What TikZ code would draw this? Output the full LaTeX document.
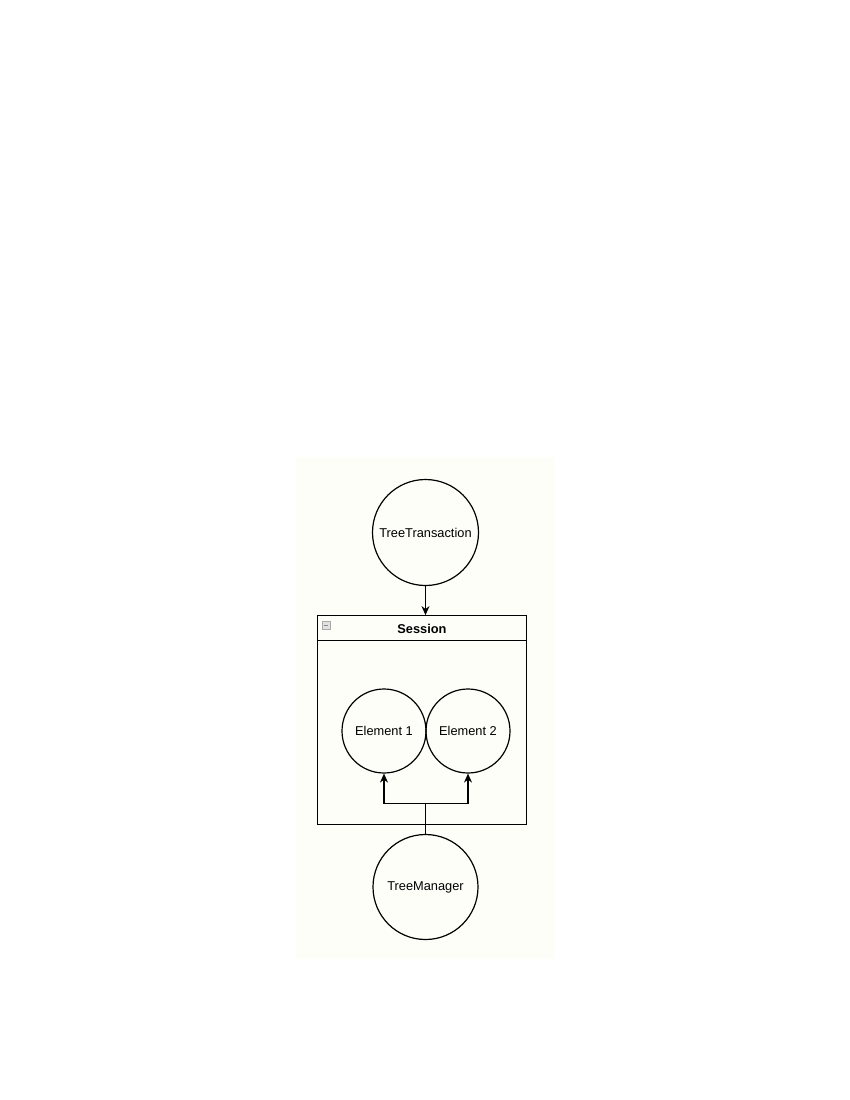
\documentclass[tikz,border=0pt]{standalone}
\usepackage{fontspec}
\setmainfont{Liberation Sans}
\usetikzlibrary{arrows.meta}
\definecolor{bgcol}{RGB}{254,254,249}
\definecolor{iconcol}{RGB}{170,170,170}
\begin{document}
\begin{tikzpicture}[x=1pt,y=-1pt,
  every node/.style={font=\fontsize{12.8}{15}\selectfont},
  circ/.style={draw, circle, line width=1.2pt, inner sep=0pt},
  conn/.style={line width=1.2pt},
  arr/.style={conn, -{Stealth[length=9pt,width=8pt]}}]
\useasboundingbox (0,0) rectangle (850,1100);
\fill[bgcol] (296,457) rectangle (555,959);
% nodes
\node[circ, minimum size=106pt] (tt) at (425.5,532.5) {TreeTransaction};
\node[draw, line width=1.2pt, minimum width=209.4pt, minimum height=208.6pt, inner sep=0pt] (session) at (422,720) {};
\node[font=\bfseries\fontsize{12.8}{15}\selectfont] (stitle) at (422,628.5) {Session};
\draw[line width=1.2pt] (317.3,640.7) coordinate (hl) -- (526.7,640.7) coordinate (hr);
\node[draw=iconcol, fill=iconcol!35, line width=0.6pt, minimum size=8pt, inner sep=0pt] (icon) at (326,625.5) {};
\draw[iconcol!80!black, line width=0.8pt] ([xshift=-2.3pt]icon.center) -- ([xshift=2.3pt]icon.center);
\node[circ, minimum size=84pt] (e1) at (384,731) {Element 1};
\node[circ, minimum size=84pt] (e2) at (468,731) {Element 2};
\node[circ, minimum size=105pt] (tm) at (425.5,887) {TreeManager};
% connectors
\draw[arr] (tt.south) -- (tt.south |- session.north);
\coordinate (j) at (425.5,803.3);
\draw[conn] (tm.north) -- (j);
\draw[arr] (j) -| (e1.south);
\draw[arr] (j) -| (e2.south);
\end{tikzpicture}
\end{document}
